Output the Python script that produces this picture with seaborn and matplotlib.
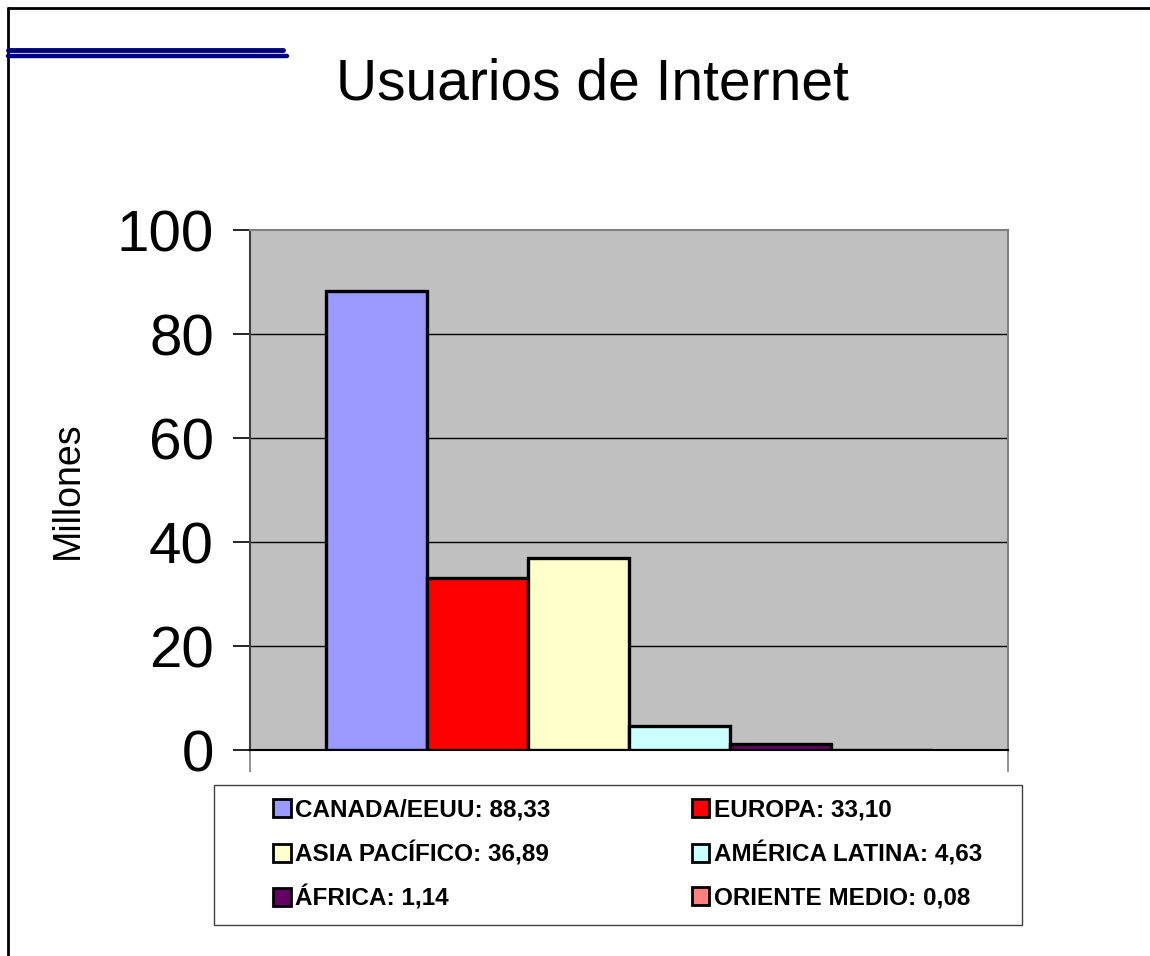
import numpy as np
import pandas as pd
import matplotlib
matplotlib.use("Agg")
import matplotlib.pyplot as plt
import matplotlib.patches as mpatches
from matplotlib.lines import Line2D
import seaborn as sns

regiones = ["CANADA/EEUU", "EUROPA", "ASIA PACÍFICO", "AMÉRICA LATINA", "ÁFRICA", "ORIENTE MEDIO"]
valores = [88.33, 33.10, 36.89, 4.63, 1.14, 0.08]
etiquetas = ["88,33", "33,10", "36,89", "4,63", "1,14", "0,08"]
colores = ["#9999FF", "#FF0000", "#FFFFCC", "#CCFFFF", "#660066", "#FF8080"]
yticks = [0, 20, 40, 60, 80, 100]

sns.set_style("white")
plt.rcParams['font.family'] = ['Liberation Sans', 'DejaVu Sans']
plt.rcParams['text.color'] = 'black'
plt.rcParams['axes.labelcolor'] = 'black'
plt.rcParams['xtick.color'] = 'black'
plt.rcParams['ytick.color'] = 'black'

df = pd.DataFrame({"grupo": ["2000"] * len(regiones), "region": regiones, "valor": valores})

fig = plt.figure(figsize=(11.5, 9.56), dpi=100)
ax = fig.add_axes([250 / 1150, 1 - 750 / 956, 758 / 1150, 520 / 956])
ax.set_facecolor("#C0C0C0")

sns.barplot(data=df, x="grupo", y="valor", hue="region", hue_order=regiones,
            palette=colores, dodge=True, width=0.8, edgecolor="black",
            linewidth=2.4, saturation=1, legend=False, ax=ax, zorder=5)

ax.set_xlim(-0.5, 0.5)
ax.set_ylim(0, 100)
ax.set_yticks(yticks)
ax.set_yticklabels([str(t) for t in yticks], fontsize=42)
ax.set_xticks([-0.5, 0.5])
ax.set_xticklabels([])
ax.set_xlabel("")
ax.set_ylabel("Millones", fontsize=27, labelpad=22)
ax.tick_params(axis="y", direction="out", length=12, width=1.2, color="black", pad=14, left=True)
ax.tick_params(axis="x", direction="out", length=16, width=1.2, color="#808080", bottom=True)
for t in yticks[1:-1]:
    ax.axhline(t, color="black", linewidth=1, zorder=1)

for side in ["top", "right"]:
    ax.spines[side].set_color("#808080")
    ax.spines[side].set_linewidth(1.5)
ax.spines["left"].set_color("#404040")
ax.spines["left"].set_linewidth(1.5)
ax.spines["bottom"].set_color("black")
ax.spines["bottom"].set_linewidth(1.5)
ax.spines["bottom"].set_zorder(4)

# titulo
fig.text(0.515, 1 - 100 / 956, "Usuarios de Internet", fontsize=41, ha="center", va="baseline")

# leyenda: marco y una entrada por celda (3 filas x 2 columnas)
marco = mpatches.Rectangle((214 / 1150, 1 - 925 / 956), 808 / 1150, 140 / 956,
                           transform=fig.transFigure, facecolor="white",
                           edgecolor="#404040", linewidth=1)
fig.patches.append(marco)
col_x = [273, 692]
fila_y = [810, 854, 898]
for i, (reg, etq, col) in enumerate(zip(regiones, etiquetas, colores)):
    fila, columna = divmod(i, 2)
    h = mpatches.Patch(facecolor=col, edgecolor="black", linewidth=2)
    fig.legend([h], [f"{reg}: {etq}"], frameon=False, loc="center left",
               bbox_to_anchor=(col_x[columna] / 1150, 1 - fila_y[fila] / 956),
               prop={"size": 17.5, "weight": "bold"}, handlelength=0.72, handleheight=0.72,
               handletextpad=0.2, borderpad=0, borderaxespad=0)

# marco de la diapositiva y lineas decorativas
fig.add_artist(Line2D([8 / 1150, 8 / 1150], [0, 1 - 8 / 956], transform=fig.transFigure, color="black", linewidth=2))
fig.add_artist(Line2D([8 / 1150, 1], [1 - 8 / 956, 1 - 8 / 956], transform=fig.transFigure, color="black", linewidth=2))
fig.add_artist(Line2D([8 / 1150, 283 / 1150], [1 - 50 / 956, 1 - 50 / 956], transform=fig.transFigure, color="#000080", linewidth=3.5))
fig.add_artist(Line2D([8 / 1150, 287 / 1150], [1 - 56 / 956, 1 - 56 / 956], transform=fig.transFigure, color="#000080", linewidth=3.2))

fig.savefig("out.png", dpi=100, facecolor="white")
